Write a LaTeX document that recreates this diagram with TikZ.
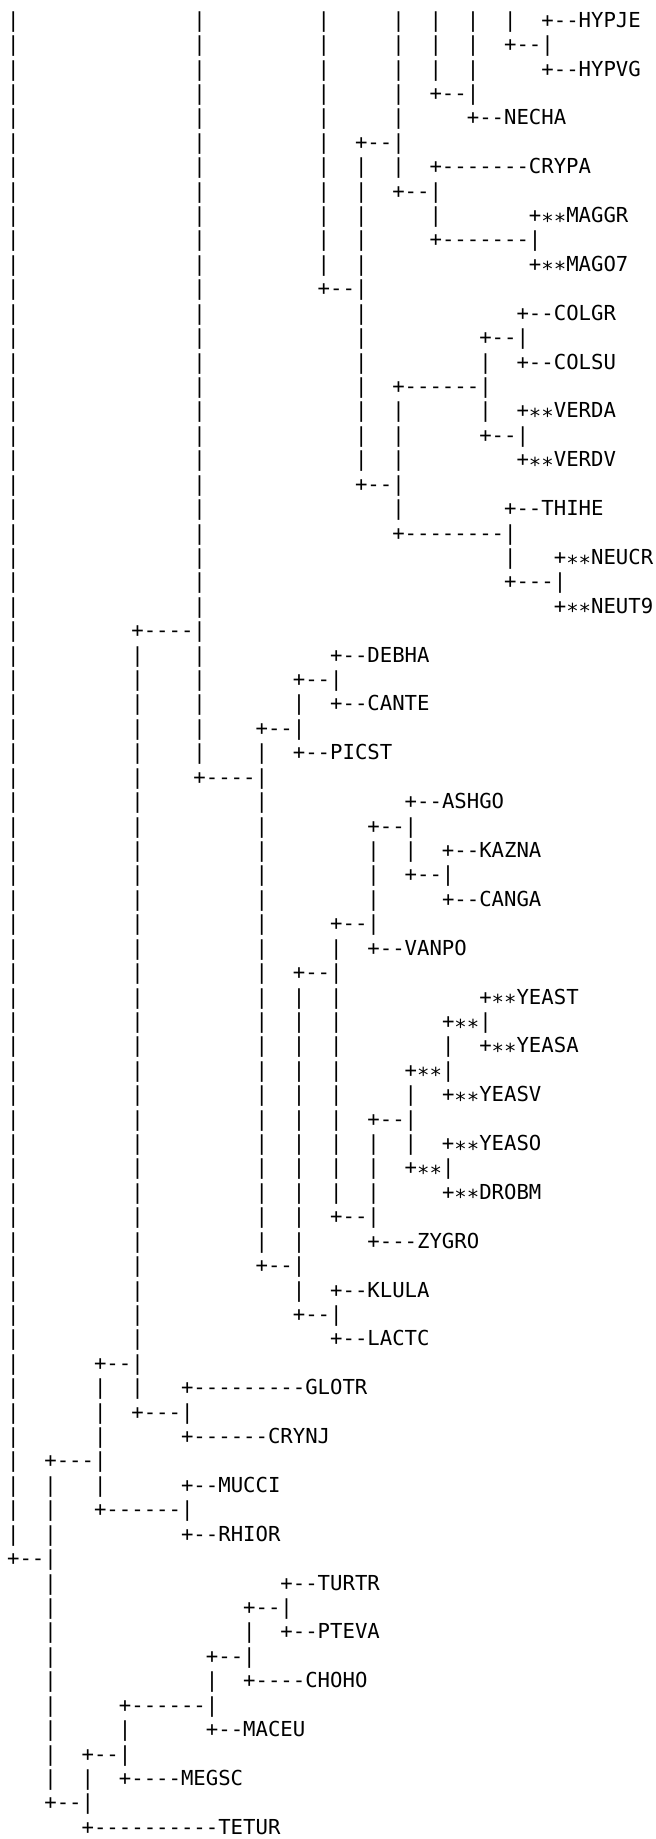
\documentclass[tikz,border=0pt]{standalone}
\usepackage{fontspec}
\setmonofont{DejaVu Sans Mono}
\usepackage{tikz}
\usetikzlibrary{positioning}

\newcommand{\gap}[1]{\hskip #1\fontdimen2\font\relax}
\newcommand{\lowstars}{\raisebox{-0.27em}{**}}

\begin{document}
\begin{tikzpicture}
[
	row/.style	= {anchor = base west, inner sep = 0pt, outer sep = 0pt, font = \ttfamily\fontsize{10.32pt}{12.21pt}\selectfont},
	node distance = 12.21pt,
]

	\useasboundingbox (-3.54pt, 13.6pt) rectangle (324.46pt, -905.9pt);

	\node (r01) [row] at (0, 0) {|\gap{14}|\gap{9}|\gap{5}|\gap{2}|\gap{2}|\gap{2}|\gap{2}+--HYPJE};
	\node (r02) [below = of r01.base west, row] {|\gap{14}|\gap{9}|\gap{5}|\gap{2}|\gap{2}|\gap{2}+--|};
	\node (r03) [below = of r02.base west, row] {|\gap{14}|\gap{9}|\gap{5}|\gap{2}|\gap{2}|\gap{5}+--HYPVG};
	\node (r04) [below = of r03.base west, row] {|\gap{14}|\gap{9}|\gap{5}|\gap{2}+--|};
	\node (r05) [below = of r04.base west, row] {|\gap{14}|\gap{9}|\gap{5}|\gap{5}+--NECHA};
	\node (r06) [below = of r05.base west, row] {|\gap{14}|\gap{9}|\gap{2}+--|};
	\node (r07) [below = of r06.base west, row] {|\gap{14}|\gap{9}|\gap{2}|\gap{2}|\gap{2}+-------CRYPA};
	\node (r08) [below = of r07.base west, row] {|\gap{14}|\gap{9}|\gap{2}|\gap{2}+--|};
	\node (r09) [below = of r08.base west, row] {|\gap{14}|\gap{9}|\gap{2}|\gap{5}|\gap{7}+\lowstars{}MAGGR};
	\node (r10) [below = of r09.base west, row] {|\gap{14}|\gap{9}|\gap{2}|\gap{5}+-------|};
	\node (r11) [below = of r10.base west, row] {|\gap{14}|\gap{9}|\gap{2}|\gap{13}+\lowstars{}MAGO7};
	\node (r12) [below = of r11.base west, row] {|\gap{14}|\gap{9}+--|};
	%
	\node (r13) [below = of r12.base west, row] {|\gap{14}|\gap{12}|\gap{12}+--COLGR};
	\node (r14) [below = of r13.base west, row] {|\gap{14}|\gap{12}|\gap{9}+--|};
	\node (r15) [below = of r14.base west, row] {|\gap{14}|\gap{12}|\gap{9}|\gap{2}+--COLSU};
	\node (r16) [below = of r15.base west, row] {|\gap{14}|\gap{12}|\gap{2}+------|};
	\node (r17) [below = of r16.base west, row] {|\gap{14}|\gap{12}|\gap{2}|\gap{6}|\gap{2}+\lowstars{}VERDA};
	\node (r18) [below = of r17.base west, row] {|\gap{14}|\gap{12}|\gap{2}|\gap{6}+--|};
	\node (r19) [below = of r18.base west, row] {|\gap{14}|\gap{12}|\gap{2}|\gap{9}+\lowstars{}VERDV};
	\node (r20) [below = of r19.base west, row] {|\gap{14}|\gap{12}+--|};
	\node (r21) [below = of r20.base west, row] {|\gap{14}|\gap{15}|\gap{8}+--THIHE};
	\node (r22) [below = of r21.base west, row] {|\gap{14}|\gap{15}+--------|};
	\node (r23) [below = of r22.base west, row] {|\gap{14}|\gap{24}|\gap{3}+\lowstars{}NEUCR};
	\node (r24) [below = of r23.base west, row] {|\gap{14}|\gap{24}+---|};
	\node (r25) [below = of r24.base west, row] {|\gap{14}|\gap{28}+\lowstars{}NEUT9};
	\node (r26) [below = of r25.base west, row] {|\gap{9}+----|};
	%
	\node (r27) [below = of r26.base west, row] {|\gap{9}|\gap{4}|\gap{10}+--DEBHA};
	\node (r28) [below = of r27.base west, row] {|\gap{9}|\gap{4}|\gap{7}+--|};
	\node (r29) [below = of r28.base west, row] {|\gap{9}|\gap{4}|\gap{7}|\gap{2}+--CANTE};
	\node (r30) [below = of r29.base west, row] {|\gap{9}|\gap{4}|\gap{4}+--|};
	\node (r31) [below = of r30.base west, row] {|\gap{9}|\gap{4}|\gap{4}|\gap{2}+--PICST};
	\node (r32) [below = of r31.base west, row] {|\gap{9}|\gap{4}+----|};
	%
	\node (r33) [below = of r32.base west, row] {|\gap{9}|\gap{9}|\gap{11}+--ASHGO};
	\node (r34) [below = of r33.base west, row] {|\gap{9}|\gap{9}|\gap{8}+--|};
	\node (r35) [below = of r34.base west, row] {|\gap{9}|\gap{9}|\gap{8}|\gap{2}|\gap{2}+--KAZNA};
	\node (r36) [below = of r35.base west, row] {|\gap{9}|\gap{9}|\gap{8}|\gap{2}+--|};
	\node (r37) [below = of r36.base west, row] {|\gap{9}|\gap{9}|\gap{8}|\gap{5}+--CANGA};
	\node (r38) [below = of r37.base west, row] {|\gap{9}|\gap{9}|\gap{5}+--|};
	\node (r39) [below = of r38.base west, row] {|\gap{9}|\gap{9}|\gap{5}|\gap{2}+--VANPO};
	\node (r40) [below = of r39.base west, row] {|\gap{9}|\gap{9}|\gap{2}+--|};
	\node (r41) [below = of r40.base west, row] {|\gap{9}|\gap{9}|\gap{2}|\gap{2}|\gap{11}+\lowstars{}YEAST};
	\node (r42) [below = of r41.base west, row] {|\gap{9}|\gap{9}|\gap{2}|\gap{2}|\gap{8}+\lowstars{}|};
	\node (r43) [below = of r42.base west, row] {|\gap{9}|\gap{9}|\gap{2}|\gap{2}|\gap{8}|\gap{2}+\lowstars{}YEASA};
	\node (r44) [below = of r43.base west, row] {|\gap{9}|\gap{9}|\gap{2}|\gap{2}|\gap{5}+\lowstars{}|};
	\node (r45) [below = of r44.base west, row] {|\gap{9}|\gap{9}|\gap{2}|\gap{2}|\gap{5}|\gap{2}+\lowstars{}YEASV};
	\node (r46) [below = of r45.base west, row] {|\gap{9}|\gap{9}|\gap{2}|\gap{2}|\gap{2}+--|};
	\node (r47) [below = of r46.base west, row] {|\gap{9}|\gap{9}|\gap{2}|\gap{2}|\gap{2}|\gap{2}|\gap{2}+\lowstars{}YEASO};
	\node (r48) [below = of r47.base west, row] {|\gap{9}|\gap{9}|\gap{2}|\gap{2}|\gap{2}|\gap{2}+\lowstars{}|};
	\node (r49) [below = of r48.base west, row] {|\gap{9}|\gap{9}|\gap{2}|\gap{2}|\gap{2}|\gap{5}+\lowstars{}DROBM};
	\node (r50) [below = of r49.base west, row] {|\gap{9}|\gap{9}|\gap{2}|\gap{2}+--|};
	\node (r51) [below = of r50.base west, row] {|\gap{9}|\gap{9}|\gap{2}|\gap{5}+---ZYGRO};
	\node (r52) [below = of r51.base west, row] {|\gap{9}|\gap{9}+--|};
	\node (r53) [below = of r52.base west, row] {|\gap{9}|\gap{12}|\gap{2}+--KLULA};
	\node (r54) [below = of r53.base west, row] {|\gap{9}|\gap{12}+--|};
	\node (r55) [below = of r54.base west, row] {|\gap{9}|\gap{15}+--LACTC};
	%
	\node (r56) [below = of r55.base west, row] {|\gap{6}+--|};
	\node (r57) [below = of r56.base west, row] {|\gap{6}|\gap{2}|\gap{3}+---------GLOTR};
	\node (r58) [below = of r57.base west, row] {|\gap{6}|\gap{2}+---|};
	\node (r59) [below = of r58.base west, row] {|\gap{6}|\gap{6}+------CRYNJ};
	\node (r60) [below = of r59.base west, row] {|\gap{2}+---|};
	\node (r61) [below = of r60.base west, row] {|\gap{2}|\gap{3}|\gap{6}+--MUCCI};
	\node (r62) [below = of r61.base west, row] {|\gap{2}|\gap{3}+------|};
	\node (r63) [below = of r62.base west, row] {|\gap{2}|\gap{10}+--RHIOR};
	\node (r64) [below = of r63.base west, row] {+--|};
	%
	\node (r65) [below = of r64.base west, row] {\gap{3}|\gap{18}+--TURTR};
	\node (r66) [below = of r65.base west, row] {\gap{3}|\gap{15}+--|};
	\node (r67) [below = of r66.base west, row] {\gap{3}|\gap{15}|\gap{2}+--PTEVA};
	\node (r68) [below = of r67.base west, row] {\gap{3}|\gap{12}+--|};
	\node (r69) [below = of r68.base west, row] {\gap{3}|\gap{12}|\gap{2}+----CHOHO};
	\node (r70) [below = of r69.base west, row] {\gap{3}|\gap{5}+------|};
	\node (r71) [below = of r70.base west, row] {\gap{3}|\gap{5}|\gap{6}+--MACEU};
	\node (r72) [below = of r71.base west, row] {\gap{3}|\gap{2}+--|};
	\node (r73) [below = of r72.base west, row] {\gap{3}|\gap{2}|\gap{2}+----MEGSC};
	\node (r74) [below = of r73.base west, row] {\gap{3}+--|};
	\node (r75) [below = of r74.base west, row] {\gap{6}+----------TETUR};

\end{tikzpicture}
\end{document}
